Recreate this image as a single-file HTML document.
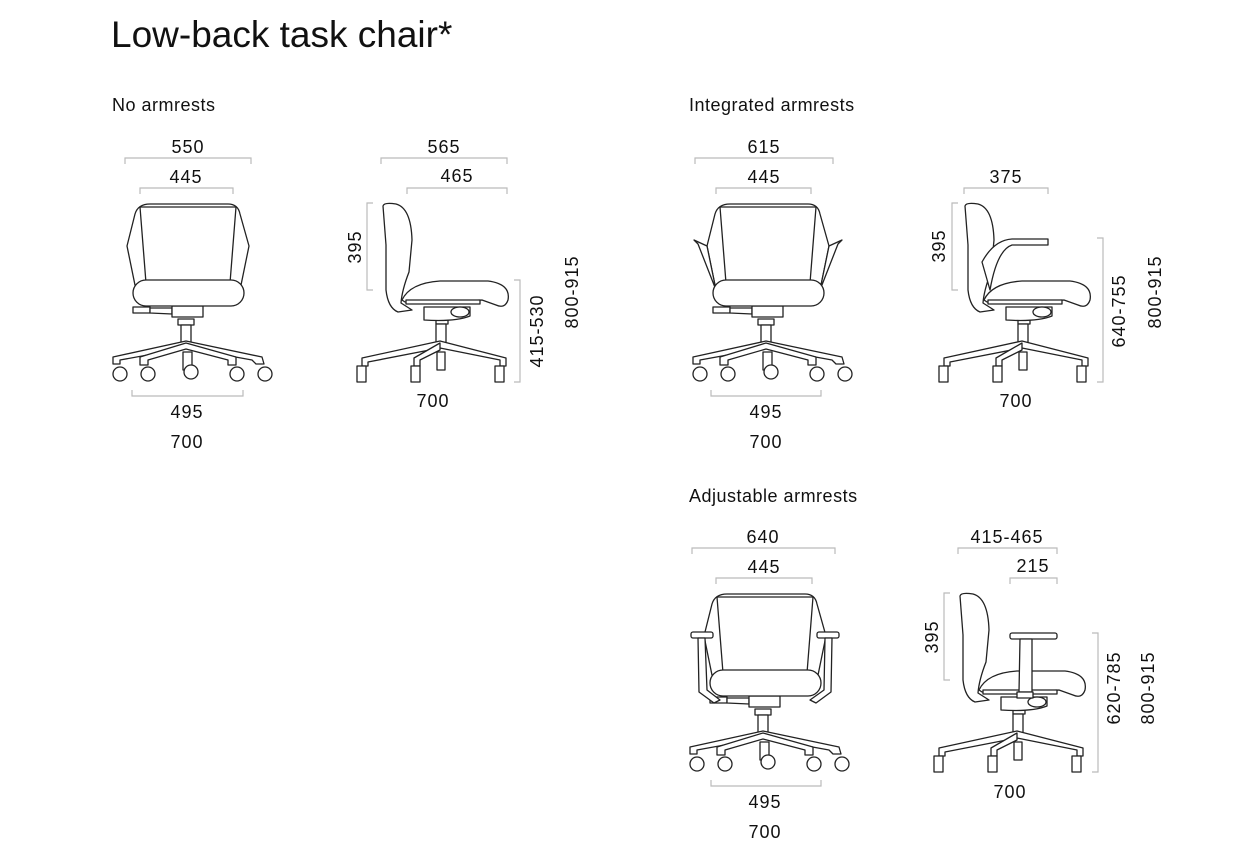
<!DOCTYPE html><html><head><meta charset="utf-8"><style>
html,body{margin:0;padding:0;background:#fff;width:1237px;height:851px;overflow:hidden}
svg{display:block}
text{font-family:"Liberation Sans",sans-serif;fill:#111}
.n{font-size:18px;text-anchor:middle;letter-spacing:1px}
.h{font-size:18px;letter-spacing:0.5px}
.d{fill:none;stroke:#bbb;stroke-width:1.2}
.c{fill:#fff;stroke:#222;stroke-width:1.3;stroke-linejoin:round}
</style></head><body>
<svg width="1237" height="851" viewBox="0 0 1237 851">
<defs>
<g id="fbase" class="c">
<rect x="178" y="319" width="16" height="6"/>
<rect x="181" y="325" width="10" height="20"/>
<path d="M186,341 L113,357 L113,364 L120,364 L120,360 L186,348 L252,360 L256,364 L264,364 L262,357 Z"/>
<path d="M186,343 L140,357 L140,365 L148,365 L148,360 L186,349 L228,360 L228,365 L236,365 L236,357 Z"/>
<rect x="183" y="352" width="9" height="18"/>
<circle cx="120" cy="374" r="7"/><circle cx="148" cy="374" r="7"/><circle cx="191" cy="372" r="7"/><circle cx="237" cy="374" r="7"/><circle cx="265" cy="374" r="7"/>
<rect x="133" y="307" width="17" height="6"/><path d="M150,308 L172,308 L172,314 L150,313Z"/>
<rect x="172" y="306" width="31" height="11"/>
</g>
<g id="fback" class="c">
<path d="M135,214 Q138,204 150,204 L228,204 Q238,204 240,214 L249,246 L240,290 L136,290 L127,246 Z"/>
<path d="M140,207 L236,207 L230,283 L146,283 Z"/>
</g>
<g id="fseat" class="c"><rect x="133" y="280" width="111" height="26" rx="13"/></g>
<g id="sbase" class="c">
<rect x="436" y="319" width="12" height="5"/>
<rect x="436" y="324" width="10" height="20"/>
<path d="M440,341 L362,358 L362,366 L368,366 L368,362 L440,348 L500,360 L500,366 L506,366 L506,358 Z"/>
<path d="M440,343 L414,358 L414,366 L420,366 L420,360 L440,350 Z"/>
<rect x="437" y="352" width="8" height="18"/>
<rect x="357" y="366" width="9" height="16"/><rect x="411" y="366" width="9" height="16"/><rect x="495" y="366" width="9" height="16"/>
<path d="M424,307 L470,307 L470,316 Q455,322 424,320 Z"/>
<ellipse cx="460" cy="312" rx="9" ry="5"/>
</g>
<g id="sback" class="c">
<path d="M383,206 Q384,202 396,204 Q411,208 412,240 L409,272 Q402,290 401,303 L412,310 L398,312 Q388,308 386,290 L386,245 Z"/>
</g>
<g id="sseat" class="c"><path d="M402,300 Q410,283 440,281 L488,281 Q511,284 508,300 Q505,309 496,305 L482,300 L405,302 Z"/>
<path d="M406,300 L480,300 L480,304 L406,304Z"/></g>
</defs>

<text x="111" y="47" style="font-size:37px">Low-back task chair*</text>
<text class="h" x="112" y="111">No armrests</text>
<text class="h" x="689" y="111">Integrated armrests</text>
<text class="h" x="689" y="502">Adjustable armrests</text>

<use href="#fbase"/><use href="#fback"/><use href="#fseat"/>
<use href="#sbase"/><use href="#sback"/><use href="#sseat"/>
<path class="d" d="M125,164 V158 H251 V164 M140,194 V188 H233 V194 M132,390 V396 H243 V390"/>
<path class="d" d="M381,164 V158 H507 V164 M407,194 V188 H507 V194 M373,203 H367 V290 H373 M514,280 H520 V382 H514"/>
<text class="n" x="188" y="153">550</text><text class="n" x="186" y="183">445</text>
<text class="n" x="187" y="418">495</text><text class="n" x="187" y="448">700</text>
<text class="n" x="444" y="153">565</text><text class="n" x="457" y="182">465</text>
<text class="n" x="433" y="407">700</text>
<text class="n" transform="translate(361,247) rotate(-90)">395</text>
<text class="n" transform="translate(543,331) rotate(-90)">415-530</text>
<text class="n" transform="translate(578,292) rotate(-90)">800-915</text>

<g transform="translate(580,0)">
<use href="#fbase"/><use href="#fback"/>
<path class="c" d="M127,246 L114,240 L118,244 L136,290 Z M249,246 L262,240 L258,244 L240,290 Z"/>
<use href="#fseat"/>
</g>
<g transform="translate(582,0)">
<use href="#sbase"/><use href="#sback"/><use href="#sseat"/>
<path class="c" d="M400,262 Q412,240 430,239 L466,239 L466,245 L430,245 Q415,250 408,290 Z"/>
</g>
<path class="d" d="M695,164 V158 H833 V164 M716,194 V188 H811 V194 M711,390 V396 H821 V390"/>
<path class="d" d="M964,194 V188 H1048 V194 M958,203 H952 V290 H958 M1097,238 H1103 V382 H1097"/>
<text class="n" x="764" y="153">615</text><text class="n" x="764" y="183">445</text>
<text class="n" x="766" y="418">495</text><text class="n" x="766" y="448">700</text>
<text class="n" x="1006" y="183">375</text><text class="n" x="1016" y="407">700</text>
<text class="n" transform="translate(945,246) rotate(-90)">395</text>
<text class="n" transform="translate(1125,311) rotate(-90)">640-755</text>
<text class="n" transform="translate(1161,292) rotate(-90)">800-915</text>

<g transform="translate(577,390)">
<use href="#fbase"/><use href="#fback"/><use href="#fseat"/>
<rect class="c" x="114" y="242" width="22" height="6" rx="2"/>
<rect class="c" x="240" y="242" width="22" height="6" rx="2"/>
<path class="c" d="M121,248 L128,248 L130,300 L143,310 L137,313 L122,302 Z"/>
<path class="c" d="M248,248 L255,248 L254,302 L239,313 L233,310 L247,300 Z"/>
</g>
<g transform="translate(577,390)">
<use href="#sbase"/><use href="#sback"/><use href="#sseat"/>
<rect class="c" x="433" y="243" width="47" height="6" rx="2"/>
<path class="c" d="M443,249 L455,249 L455,302 L442,302 Z"/>
<rect class="c" x="440" y="302" width="16" height="6"/>
</g>
<path class="d" d="M692,554 V548 H835 V554 M716,584 V578 H812 V584 M711,780 V786 H821 V780"/>
<path class="d" d="M958,554 V548 H1057 V554 M1010,584 V578 H1057 V584 M950,593 H944 V680 H950 M1092,633 H1098 V772 H1092"/>
<text class="n" x="763" y="543">640</text><text class="n" x="764" y="573">445</text>
<text class="n" x="765" y="808">495</text><text class="n" x="765" y="838">700</text>
<text class="n" x="1007" y="543">415-465</text><text class="n" x="1033" y="572">215</text>
<text class="n" x="1010" y="798">700</text>
<text class="n" transform="translate(938,637) rotate(-90)">395</text>
<text class="n" transform="translate(1120,688) rotate(-90)">620-785</text>
<text class="n" transform="translate(1154,688) rotate(-90)">800-915</text>
</svg>
</body></html>
